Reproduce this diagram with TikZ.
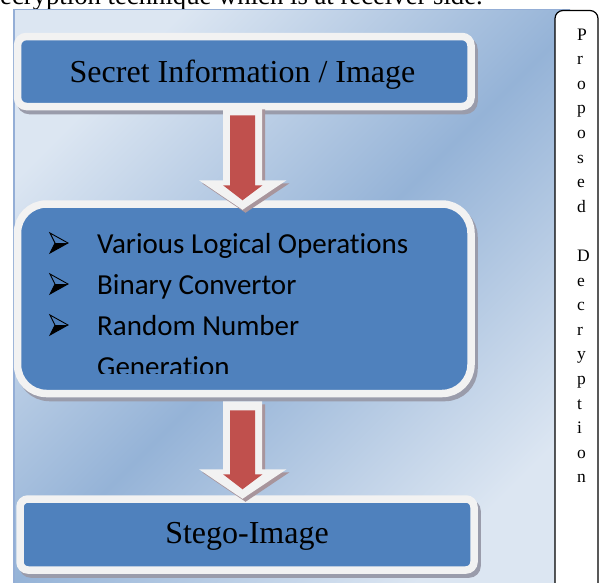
\documentclass[tikz,border=0pt]{standalone}
\usepackage{fontspec}
\setmainfont{Liberation Serif}
\newfontfamily\calfont[Ligatures=NoCommon]{Carlito}
\usetikzlibrary{calc}

\definecolor{boxblue}{HTML}{4F81BD}
\definecolor{arrowred}{HTML}{C0504D}
\definecolor{framewhite}{HTML}{F2F2F2}
\definecolor{bglight}{HTML}{DCE6F2}
\definecolor{bgdark}{HTML}{95B3D7}
\definecolor{bgedge}{HTML}{94AED6}
\definecolor{boxshadow}{HTML}{9A9CAB}
\definecolor{arrowshadow}{HTML}{A8959C}

\tikzset{
  bluebox/.style={draw=framewhite, fill=boxblue, line width=7.5pt,
    inner sep=0pt, outer sep=3.75pt,
    preaction={draw=boxshadow, fill=boxshadow, line width=7.5pt,
      transform canvas={shift={(3pt,-4pt)}}}},
  boxtitle/.style={font=\fontsize{32}{38}\selectfont, inner sep=0pt},
  itemtext/.style={font=\calfont\fontsize{29}{35}\selectfont, inner sep=0pt, anchor=base west},
  sideletter/.style={font=\fontsize{17.5}{21}\selectfont, inner sep=0pt, anchor=base west},
  arrowframe/.style={fill=framewhite,
    preaction={fill=arrowshadow, transform canvas={shift={(3pt,-3pt)}}}},
  arrowbody/.style={fill=arrowred},
  % three-dimensional arrowhead used as list marker
  listmark/.pic={
    \fill[black] (5,-10) -- (18,-10) -- (0,0) -- cycle;
    \draw[black, line width=0.9pt, line join=miter] (0,-20) -- (18,-10) -- (0,0) -- (5,-10) -- cycle;
  },
}

% block arrow from the top of its shaft (#1) to the tip of its red head (#2)
\newcommand\blockarrow[2]{%
  \path[arrowframe] ($(#1)+(-19.5,0)$) -- ($(#1)+(19.5,0)$)
    -- ($(#2)+(19.5,-20)$) -- ($(#2)+(44,-20)$) -- ($(#2)+(0,9.5)$)
    -- ($(#2)+(-43.5,-20)$) -- ($(#2)+(-19.5,-20)$) -- cycle;
  \path[arrowbody] ($(#1)+(-12.5,9)$) -- ($(#1)+(12.5,9)$)
    -- ($(#2)+(12.5,-15)$) -- ($(#2)+(20,-15)$) -- (#2)
    -- ($(#2)+(-19.5,-15)$) -- ($(#2)+(-12.5,-15)$) -- cycle;
}

\begin{document}
\begin{tikzpicture}[x=1pt,y=-1pt]
\useasboundingbox (0,0) rectangle (599,582);
\clip (0,0) rectangle (599,582);
\fill[white] (0,0) rectangle (599,582);

% running text above the figure
\node[font=\fontsize{26.7}{31}\selectfont, inner sep=0pt, anchor=base east]
  (caption) at (483,4) {decryption technique which is at receiver side.};

% shaded panel
\shade[top color=bglight, bottom color=bglight, middle color=bgdark, shading angle=45]
  (14,9) rectangle (570,600);
\draw[bgedge, line width=1.5pt] (14,600) -- (14,9.5) -- (570,9.5);

% side label box
\draw[line width=1.2pt, fill=white, rounded corners=8pt] (555,10.5) rectangle (598,610);
\foreach \ch [count=\i from 0] in {P,r,o,p,o,s,e,d,{},D,e,c,r,y,p,t,i,o,n}
  \node[sideletter] (side\i) at (577,{40+\i*24.6}) {\ch};

% process boxes
\node[bluebox, rounded corners=9pt, minimum width=453.5pt, minimum height=70pt]
  (b1) at (244.25,71.5) {};
\node[bluebox, rounded corners=29pt, minimum width=453.5pt, minimum height=189.5pt]
  (b2) at (244.25,298.75) {};
\node[bluebox, rounded corners=8pt, minimum width=454pt, minimum height=71pt]
  (b3) at (247,534.5) {};

\node[boxtitle, anchor=base] (t1) at (242.5,82) {Secret Information / Image};
\node[boxtitle, anchor=base] (t3) at (247,543) {Stego-Image};

% list inside the middle box, cut off at its lower edge
\begin{scope}
  \clip (0,0) rectangle (599,373);
  \pic (m1) at (50,253) {listmark};
  \node[itemtext] (i1) at (97,253) {Various Logical Operations};
  \pic (m2) at (50,294) {listmark};
  \node[itemtext] (i2) at (97,294) {Binary Convertor};
  \pic (m3) at (50,335) {listmark};
  \node[itemtext] (i3) at (97,335) {Random Number};
  \node[itemtext] (i4) at (97,376) {Generation};
\end{scope}

% arrows between the boxes
\coordinate (a1top) at ($(b1.south)+(-1.75,-4)$);
\coordinate (a1tip) at ($(b2.north)+(-1.75,0)$);
\coordinate (a2top) at ($(b2.south)+(-1.75,4)$);
\coordinate (a2tip) at ($(b3.north)+(-4.5,-6)$);
\blockarrow{a1top}{a1tip}
\blockarrow{a2top}{a2tip}
\end{tikzpicture}
\end{document}
